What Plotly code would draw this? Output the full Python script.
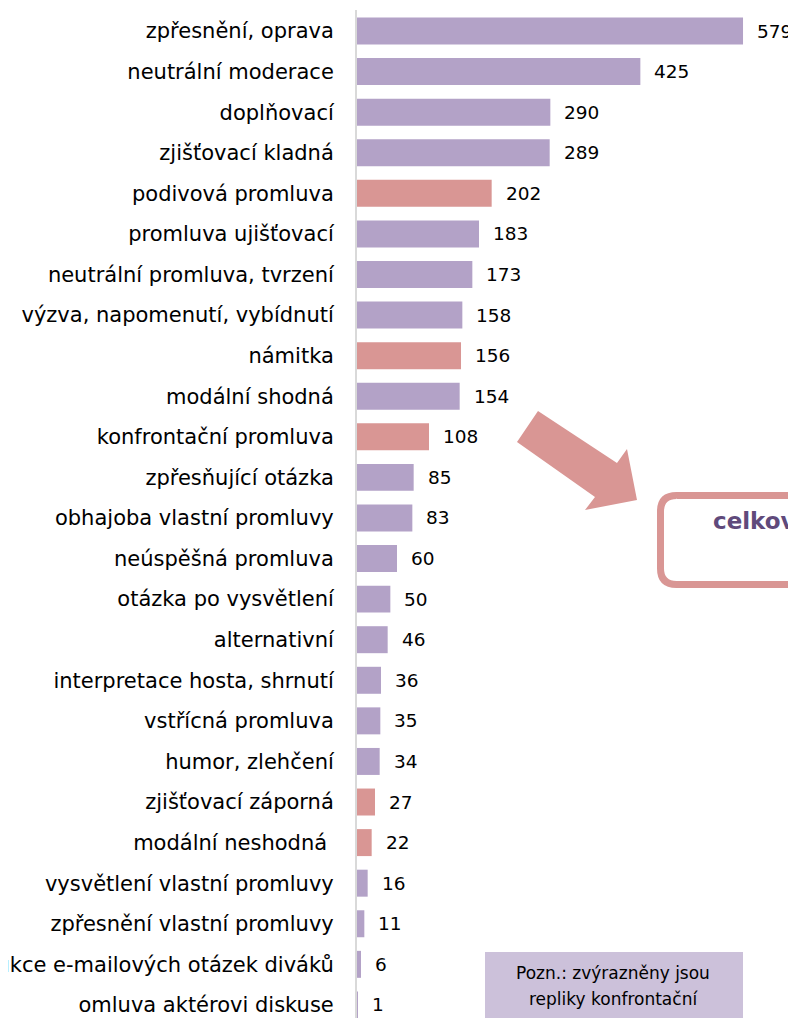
import plotly.graph_objects as go

categories = [
    "zpřesnění, oprava", "neutrální moderace", "doplňovací", "zjišťovací kladná",
    "podivová promluva", "promluva ujišťovací", "neutrální promluva, tvrzení",
    "výzva, napomenutí, vybídnutí", "námitka", "modální shodná",
    "konfrontační promluva", "zpřesňující otázka", "obhajoba vlastní promluvy",
    "neúspěšná promluva", "otázka po vysvětlení", "alternativní",
    "interpretace hosta, shrnutí", "vstřícná promluva", "humor, zlehčení",
    "zjišťovací záporná", "modální neshodná\u00a0", "vysvětlení vlastní promluvy",
    "zpřesnění vlastní promluvy", "rekonstrukce e-mailových otázek diváků",
    "omluva aktérovi diskuse",
]
values = [579, 425, 290, 289, 202, 183, 173, 158, 156, 154, 108, 85, 83, 60, 50,
          46, 36, 35, 34, 27, 22, 16, 11, 6, 1]
confrontational = ["podivová promluva", "námitka", "konfrontační promluva",
                   "zjišťovací záporná", "modální neshodná\u00a0"]
note_lines = ["Pozn.: zvýrazněny jsou", "repliky konfrontační"]
box_text = "celkově konfrontační"

PURPLE = "#B3A2C7"
PINK = "#D99694"
colors = [PINK if c in confrontational else PURPLE for c in categories]

# page has an 8px body margin: the figure starts at page (8, 8)
OFF = 8
W, H = 796 - OFF, 1018 - OFF
AX_X, TOP_Y = 357, 10          # page pixel of the axis line and plot top
BOT_Y = OFF + H                # page pixel of the plot bottom
ML, MT = AX_X - OFF, TOP_Y - OFF
PW, PH = W - ML, H - MT

ROW0, ROWSTEP = 31, 40.58      # page pixel of first row centre, row spacing

def px(x):
    return (x - AX_X) / PW

def py(y):
    return 1 - (y - TOP_Y) / PH

FONT = "DejaVu Sans"

fig = go.Figure(go.Bar(
    x=values, y=categories, orientation="h",
    marker=dict(color=colors, line=dict(width=0)),
    hoverinfo="skip",
))

annotations = []
for c, v in zip(categories, values):
    annotations.append(dict(x=v, y=c, xref="x", yref="y", text=str(v),
                            showarrow=False, xanchor="left", xshift=12,
                            font=dict(family=FONT, size=18.5, color="#000000")))

# note box text
for line, yy in zip(note_lines, [973, 999]):
    annotations.append(dict(x=px(613), y=py(yy), xref="paper", yref="paper",
                            text=line, showarrow=False,
                            xanchor="center", yanchor="middle",
                            font=dict(family=FONT, size=17, color="#000000")))
# rounded box text
annotations.append(dict(x=px(711), y=py(521), xref="paper", yref="paper",
                        text=f"<b>{box_text}</b>", showarrow=False,
                        xanchor="left", yanchor="middle",
                        font=dict(family=FONT, size=23, color="#604A7B")))

def path(points):
    return "M " + " L ".join(f"{px(x):.5f},{py(y):.5f}" for x, y in points) + " Z"

arrow_pts = [(538, 411), (617, 463), (627, 449), (637, 500), (585, 510), (595, 497), (517, 442)]

# rounded rectangle
x0, y0, x1, y1, r = 660.5, 495.5, 900, 584.5, 16
rr = (f"M {px(x0 + r):.5f},{py(y0):.5f} L {px(x1):.5f},{py(y0):.5f} "
      f"L {px(x1):.5f},{py(y1):.5f} L {px(x0 + r):.5f},{py(y1):.5f} "
      f"Q {px(x0):.5f},{py(y1):.5f} {px(x0):.5f},{py(y1 - r):.5f} "
      f"L {px(x0):.5f},{py(y0 + r):.5f} "
      f"Q {px(x0):.5f},{py(y0):.5f} {px(x0 + r):.5f},{py(y0):.5f}")

shapes = [
    dict(type="path", xref="paper", yref="paper", path=path(arrow_pts),
         fillcolor=PINK, line=dict(width=0), layer="above"),
    dict(type="path", xref="paper", yref="paper", path=rr,
         fillcolor="white", line=dict(color=PINK, width=7), layer="below"),
    dict(type="rect", xref="paper", yref="paper", x0=px(485), x1=px(743),
         y0=py(1030), y1=py(952), fillcolor="#CCC1DA", line=dict(width=0), layer="below"),
]

fig.update_layout(
    width=W, height=H,
    margin=dict(l=ML, r=0, t=MT, b=0, autoexpand=False),
    paper_bgcolor="white", plot_bgcolor="white",
    bargap=0.335, showlegend=False,
    xaxis=dict(range=[0, PW / 0.6667], visible=False, fixedrange=True),
    yaxis=dict(range=[(BOT_Y - ROW0) / ROWSTEP, (TOP_Y - ROW0) / ROWSTEP],
               showline=True, linecolor="#D9D9D9", linewidth=2,
               showgrid=False, zeroline=False, ticks="", ticklabelstandoff=17,
               automargin=False,
               tickfont=dict(family=FONT, size=21, color="#000000")),
    annotations=annotations, shapes=shapes,
)

fig.write_html("out.html")
